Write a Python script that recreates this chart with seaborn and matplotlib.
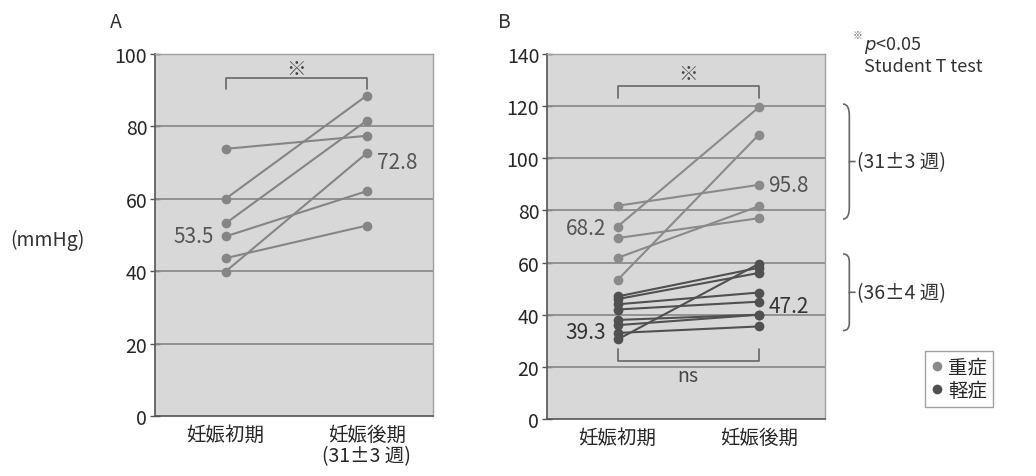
import numpy as np
import pandas as pd
import seaborn as sns
import matplotlib.pyplot as plt
from matplotlib.lines import Line2D
from matplotlib.path import Path
from matplotlib.patches import PathPatch
import matplotlib.transforms as mtransforms

# data (mmHg)
periods = ['妊娠初期', '妊娠後期']
a_early = [73.8, 60.0, 53.2, 49.6, 43.6, 39.9]
a_late = [77.4, 88.5, 81.6, 62.1, 52.6, 72.6]
b_severe_early = [81.8, 73.8, 69.4, 61.8, 53.3]
b_severe_late = [89.8, 119.5, 77.0, 81.6, 109.0]
b_mild_early = [47.0, 46.0, 44.0, 42.0, 38.0, 36.0, 33.0, 30.5]
b_mild_late = [58.0, 56.0, 48.5, 45.0, 40.0, 40.0, 35.5, 59.5]
groups = ['重症', '軽症']
mean_labels_a = ['53.5', '72.8']
mean_labels_b = ['68.2', '95.8', '39.3', '47.2']

sns.set_theme(style='white')
plt.rcParams['font.family'] = ['Noto Sans CJK JP', 'DejaVu Sans']

colors = {'A': '#858585', '重症': '#8a8a8a', '軽症': '#505050'}


def long_form(early, late, group, start):
    rows = []
    for i, (e, l) in enumerate(zip(early, late)):
        rows.append((start + i, 0, e, group))
        rows.append((start + i, 1, l, group))
    return rows


df_a = pd.DataFrame(long_form(a_early, a_late, 'A', 0), columns=['pid', 'x', 'value', 'group'])
df_b = pd.DataFrame(long_form(b_severe_early, b_severe_late, '重症', 0)
                    + long_form(b_mild_early, b_mild_late, '軽症', 100),
                    columns=['pid', 'x', 'value', 'group'])

fig = plt.figure(figsize=(10.36, 4.77), dpi=100)
ax_a = fig.add_axes([155 / 1036, 60 / 477, 278 / 1036, 362 / 477])
ax_b = fig.add_axes([547 / 1036, 57 / 477, 278 / 1036, 365 / 477])


def style_axes(ax, ymax, labels):
    ax.set_facecolor('#d8d8d8')
    ax.set_xlim(-0.5, 1.47)
    ax.set_ylim(0, ymax)
    ax.set_yticks(np.arange(0, ymax + 1, 20))
    for y in np.arange(20, ymax, 20):
        ax.axhline(y, color='#8c8c8c', lw=1.3, zorder=1)
    ax.set_xticks([0, 1])
    ax.set_xticklabels(labels, fontsize=14, linespacing=1.0)
    ax.tick_params(axis='x', length=0, pad=6)
    ax.set_xticks([-0.5, 0.5, 1.47], minor=True)
    ax.tick_params(axis='x', which='minor', direction='out', length=5, color='#555555', width=1)
    ax.tick_params(axis='y', direction='inout', length=7, color='#555555', width=1,
                   labelsize=14, pad=2, left=True)
    for side in ['left', 'bottom']:
        ax.spines[side].set_color('#555555')
        ax.spines[side].set_linewidth(1.2)
    for side in ['top', 'right']:
        ax.spines[side].set_color('#a0a0a0')
        ax.spines[side].set_linewidth(1.0)
    ax.set_xlabel('')
    ax.set_ylabel('')


def bracket(ax, y_bar, y_leg, label, y_text):
    ax.plot([0, 0, 1, 1], [y_leg, y_bar, y_bar, y_leg], color='#666666', lw=1.2, zorder=2)
    ax.text(0.5, y_text, label, ha='center', va='center', fontsize=14, color='#444444')


def brace(ax, x0, x1, y_top, y_bot):
    # curly brace: x in axes fraction, y in data units
    trans = mtransforms.blended_transform_factory(ax.transAxes, ax.transData)
    ym = (y_top + y_bot) / 2
    xm = (x0 + x1) / 2
    verts = [(x0, y_top), (xm, y_top), (xm, y_top + (ym - y_top) * 0.2),
             (xm, ym - (ym - y_top) * 0.15), (xm, ym), (xm, ym), (x1, ym),
             (xm, ym), (xm, ym), (xm, ym + (y_bot - ym) * 0.15),
             (xm, y_bot - (y_bot - ym) * 0.2), (xm, y_bot), (x0, y_bot)]
    codes = [Path.MOVETO, Path.CURVE3, Path.CURVE3, Path.LINETO,
             Path.CURVE3, Path.CURVE3, Path.LINETO,
             Path.MOVETO, Path.CURVE3, Path.CURVE3,
             Path.LINETO, Path.CURVE3, Path.CURVE3]
    patch = PathPatch(Path(verts, codes), transform=trans, fill=False,
                      edgecolor='#666666', lw=1.2, clip_on=False)
    ax.add_patch(patch)
    return trans


# panel A
sns.lineplot(data=df_a, x='x', y='value', units='pid', estimator=None, hue='group',
             palette=colors, marker='o', markersize=7, markeredgewidth=0, lw=1.5,
             sort=False, legend=False, ax=ax_a, zorder=3)
style_axes(ax_a, 100, [periods[0], periods[1] + '\n(31±3 週)'])
bracket(ax_a, 93.3, 90.3, '※', 96.0)
ax_a.text(-0.08, 49.7, mean_labels_a[0], ha='right', va='center', fontsize=15, color='#555555')
ax_a.text(1.07, 70.2, mean_labels_a[1], ha='left', va='center', fontsize=15, color='#555555')

# panel B
sns.lineplot(data=df_b, x='x', y='value', units='pid', estimator=None, hue='group',
             palette=colors, marker='o', markersize=7, markeredgewidth=0, lw=1.5,
             sort=False, legend=False, ax=ax_b, zorder=3)
style_axes(ax_b, 140, periods)
bracket(ax_b, 127.8, 123.0, '※', 132.7)
bracket(ax_b, 22.4, 27.0, 'ns', 16.6)
ax_b.text(-0.08, 73.3, mean_labels_b[0], ha='right', va='center', fontsize=15, color='#555555')
ax_b.text(1.07, 89.9, mean_labels_b[1], ha='left', va='center', fontsize=15, color='#555555')
ax_b.text(-0.08, 33.5, mean_labels_b[2], ha='right', va='center', fontsize=15, color='#333333')
ax_b.text(1.07, 43.5, mean_labels_b[3], ha='left', va='center', fontsize=15, color='#333333')

tr = brace(ax_b, 1.065, 1.11, 120.8, 76.7)
ax_b.text(1.115, 98.7, '(31±3 週)', transform=tr, ha='left', va='center', fontsize=14, color='#333333')
tr = brace(ax_b, 1.065, 1.11, 63.3, 33.9)
ax_b.text(1.115, 48.6, '(36±4 週)', transform=tr, ha='left', va='center', fontsize=14, color='#333333')

# figure level texts
fig.text(110 / 1036, 1 - 22 / 477, 'A', fontsize=14, va='center', ha='left', color='#333333')
fig.text(498 / 1036, 1 - 22 / 477, 'B', fontsize=14, va='center', ha='left', color='#333333')
fig.text(10 / 1036, 1 - 240 / 477, '(mmHg)', fontsize=14, va='center', ha='left', color='#333333')
fig.text(862 / 1036, 1 - 36 / 477, '※', fontsize=7, va='center', ha='right', color='#666666')
fig.text(864 / 1036, 1 - 45 / 477, '$p$<0.05', fontsize=13, va='center', ha='left', color='#333333')
fig.text(864 / 1036, 1 - 67 / 477, 'Student T test', fontsize=13, va='center', ha='left', color='#333333')

handles = [Line2D([], [], marker='o', ls='', color=colors[g], markersize=7, markeredgewidth=0)
           for g in groups]
leg = fig.legend(handles, groups, loc='upper left', bbox_to_anchor=(925 / 1036, 1 - 352 / 477),
                 fontsize=14, frameon=True, fancybox=False, handlelength=0.6,
                 handletextpad=0.3, borderpad=0.3, labelspacing=0.1, borderaxespad=0)
leg.get_frame().set_edgecolor('#888888')
leg.get_frame().set_linewidth(1.0)

fig.savefig('out.png', dpi=100)
